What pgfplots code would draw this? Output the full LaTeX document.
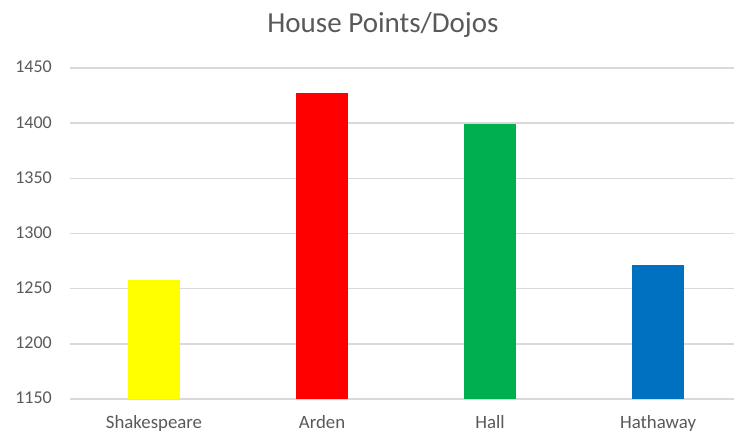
\documentclass[border=0pt]{standalone}
\usepackage{pgfplots}
\pgfplotsset{compat=1.18}
\usepackage{fontspec}
\setmainfont{Carlito}
\definecolor{txtgrey}{HTML}{595959}
\definecolor{gridgrey}{HTML}{D9D9D9}
\definecolor{xlyellow}{HTML}{FFFF00}
\definecolor{xlred}{HTML}{FF0000}
\definecolor{xlgreen}{HTML}{00B050}
\definecolor{xlblue}{HTML}{0070C0}
\begin{document}
\begin{tikzpicture}[x=1pt,y=1pt]
\useasboundingbox (-70,-37) rectangle (664,399);
\begin{axis}[
  at={(0,0)}, anchor=south west,
  scale only axis, width=664pt, height=331pt,
  ybar, bar width=52pt, bar shift=0pt,
  xmin=-0.5, xmax=3.452, ymin=1150, ymax=1450,
  enlargelimits=false,
  xtick={0,1,2,3},
  xticklabels={Shakespeare,Arden,Hall,Hathaway},
  ytick={1150,1200,...,1450},
  ymajorgrids, grid style={gridgrey, line width=1.4pt},
  axis line style={draw=none},
  major tick length=0pt,
  tick style={draw=none},
  /pgf/number format/assume math mode=true,
  /pgf/number format/1000 sep={},
  ticklabel style={text=txtgrey, inner sep=0pt},
  xticklabel style={font=\fontsize{18.8}{20}\selectfont, anchor=base, yshift=-30pt},
  yticklabel style={font=\fontsize{18}{20}\selectfont, anchor=base east, xshift=-18pt, yshift=-5pt},
  clip=false,
]
\addplot[draw=none, fill=xlyellow] coordinates {(0,1258)};
\addplot[draw=none, fill=xlred] coordinates {(1,1427)};
\addplot[draw=none, fill=xlgreen] coordinates {(2,1399)};
\addplot[draw=none, fill=xlblue] coordinates {(3,1271)};
\end{axis}
\node[anchor=base, inner sep=0pt, text=txtgrey, font=\fontsize{29}{32}\selectfont] at (313,366) {House Points/Dojos};
\end{tikzpicture}
\end{document}
